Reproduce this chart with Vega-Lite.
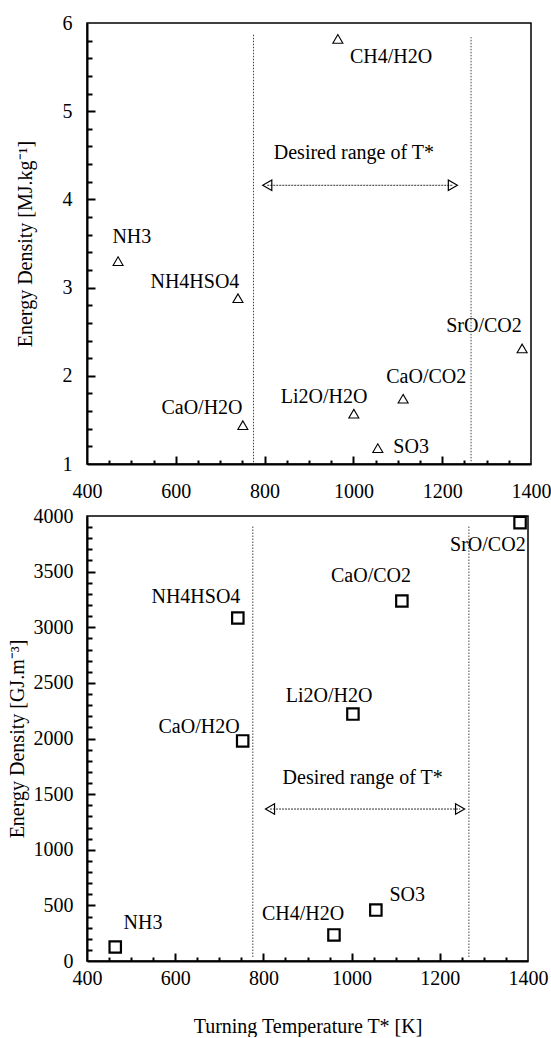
{
  "$schema": "https://vega.github.io/schema/vega-lite/v6.json",
  "background": "white",
  "padding": {"left": 6, "top": 12, "right": 0, "bottom": 0},
  "spacing": 3,
  "config": {
    "font": "Liberation Serif",
    "view": {"stroke": "black", "strokeWidth": 1.5},
    "axis": {
      "domainColor": "black", "domainWidth": 2, "tickColor": "#000000", "tickWidth": 2, "tickOpacity": 1,
      "labelColor": "black", "labelFontSize": 20, "labelFont": "Liberation Serif",
      "titleFont": "Liberation Serif", "titleFontSize": 20, "titleFontWeight": "normal",
      "titleColor": "black", "grid": false, "labelOverlap": false, "labelFlush": false, "zindex": 2
    },
    "text": {"font": "Liberation Serif", "fontSize": 20, "color": "black"}
  },
  "vconcat": [
    {
      "width": 444,
      "height": 441,
      "resolve": {"scale": {"x": "independent", "y": "independent"}, "axis": {"x": "independent", "y": "independent"}},
      "layer": [
        {
          "data": {"values": [{"T": 775, "lo": 1.02, "hi": 5.88}, {"T": 1265, "lo": 1.03, "hi": 5.84}]},
          "mark": {"type": "rule", "strokeDash": [1.5, 1.5], "color": "#444", "strokeWidth": 1},
          "encoding": {
            "x": {"field": "T", "type": "quantitative", "scale": {"domain": [400, 1400], "nice": false, "zero": false},
              "axis": {"title": null, "orient": "bottom", "values": [400, 600, 800, 1000, 1200, 1400],
                "ticks": false, "tickSize": 0, "labelPadding": 17, "format": "d", "labelOverlap": false}},
            "y": {"field": "lo", "type": "quantitative", "scale": {"domain": [1, 6], "nice": false, "zero": false},
              "axis": {"title": "Energy Density [MJ.kg⁻¹]", "titlePadding": 27, "orient": "left",
                "values": [1, 2, 3, 4, 5, 6], "ticks": false, "tickSize": 0, "labelPadding": 15, "format": "d", "labelOverlap": false}},
            "y2": {"field": "hi"}
          }
        },
        {
          "data": {"values": [{"a": 806, "b": 1224, "v": 4.16}]},
          "mark": {"type": "rule", "strokeDash": [2, 1], "color": "#333", "strokeWidth": 1},
          "encoding": {
            "x": {"field": "a", "type": "quantitative", "scale": {"domain": [400, 1400], "nice": false, "zero": false},
              "axis": {"title": null, "orient": "bottom", "labels": false, "domain": false, "ticks": true, "tickSize": 8, "offset": -8,
                "values": [600, 800, 1000, 1200]}},
            "x2": {"field": "b"},
            "y": {"field": "v", "type": "quantitative", "scale": {"domain": [1, 6], "nice": false, "zero": false},
              "axis": {"title": null, "orient": "left", "labels": false, "domain": false, "ticks": true, "tickSize": 8, "offset": -8,
                "values": [2, 3, 4, 5]}}
          }
        },
        {
          "data": {"values": [{"end": "left", "T": 806, "v": 4.16}, {"end": "right", "T": 1224, "v": 4.16}]},
          "mark": {"type": "point", "filled": false, "color": "black", "strokeWidth": 1.2, "size": 110, "opacity": 1},
          "encoding": {
            "x": {"field": "T", "type": "quantitative", "scale": {"domain": [400, 1400], "nice": false, "zero": false},
              "axis": {"title": null, "orient": "bottom", "labels": false, "domain": false, "ticks": true, "tickSize": 4, "offset": -4,
                "values": [450, 500, 550, 650, 700, 750, 850, 900, 950, 1050, 1100, 1150, 1250, 1300, 1350]}},
            "y": {"field": "v", "type": "quantitative", "scale": {"domain": [1, 6], "nice": false, "zero": false},
              "axis": {"title": null, "orient": "left", "labels": false, "domain": false, "ticks": true, "tickSize": 5, "offset": -5,
                "values": [1.2, 1.4, 1.6, 1.8, 2.2, 2.4, 2.6, 2.8, 3.2, 3.4, 3.6, 3.8, 4.2, 4.4, 4.6, 4.8, 5.2, 5.4, 5.6, 5.8]}},
            "shape": {"field": "end", "type": "nominal", "scale": {"domain": ["left", "right"], "range": ["triangle-left", "triangle-right"]}, "legend": null}
          }
        },
        {
          "data": {"values": [{"T": 1001, "v": 4.53, "txt": "Desired range of T*"}]},
          "mark": {"type": "text", "fontSize": 20, "baseline": "middle", "align": "center"},
          "encoding": {
            "x": {"field": "T", "type": "quantitative", "scale": {"domain": [400, 1400], "nice": false, "zero": false}, "axis": null},
            "y": {"field": "v", "type": "quantitative", "scale": {"domain": [1, 6], "nice": false, "zero": false}, "axis": null},
            "text": {"field": "txt"}
          }
        },
        {
          "data": {"values": [
            {"name": "CH4/H2O", "T": 965, "E": 5.82},
            {"name": "NH3", "T": 470, "E": 3.30},
            {"name": "NH4HSO4", "T": 740, "E": 2.88},
            {"name": "CaO/H2O", "T": 751, "E": 1.44},
            {"name": "Li2O/H2O", "T": 1001, "E": 1.57},
            {"name": "CaO/CO2", "T": 1112, "E": 1.74},
            {"name": "SO3", "T": 1055, "E": 1.18},
            {"name": "SrO/CO2", "T": 1380, "E": 2.31}
          ]},
          "mark": {"type": "point", "shape": "triangle-up", "filled": false, "color": "black", "strokeWidth": 1.1, "size": 100, "opacity": 1},
          "encoding": {
            "x": {"field": "T", "type": "quantitative", "scale": {"domain": [400, 1400], "nice": false, "zero": false}, "axis": null},
            "y": {"field": "E", "type": "quantitative", "scale": {"domain": [1, 6], "nice": false, "zero": false}, "axis": null}
          }
        },
        {
          "data": {"values": [
            {"name": "CH4/H2O", "lx": 1085, "ly": 5.61},
            {"name": "NH3", "lx": 501, "ly": 3.57},
            {"name": "NH4HSO4", "lx": 643, "ly": 3.06},
            {"name": "CaO/H2O", "lx": 659, "ly": 1.63},
            {"name": "Li2O/H2O", "lx": 934, "ly": 1.76},
            {"name": "CaO/CO2", "lx": 1164, "ly": 1.99},
            {"name": "SO3", "lx": 1130, "ly": 1.19},
            {"name": "SrO/CO2", "lx": 1294, "ly": 2.57}
          ]},
          "mark": {"type": "text", "baseline": "middle", "align": "center"},
          "encoding": {
            "x": {"field": "lx", "type": "quantitative", "scale": {"domain": [400, 1400], "nice": false, "zero": false}, "axis": null},
            "y": {"field": "ly", "type": "quantitative", "scale": {"domain": [1, 6], "nice": false, "zero": false}, "axis": null},
            "text": {"field": "name"}
          }
        }
      ]
    },
    {
      "width": 441,
      "height": 445,
      "resolve": {"scale": {"x": "independent", "y": "independent"}, "axis": {"x": "independent", "y": "independent"}},
      "layer": [
        {
          "data": {"values": [{"T": 776, "lo": 36, "hi": 3919}, {"T": 1266, "lo": 36, "hi": 3919}]},
          "mark": {"type": "rule", "strokeDash": [1.5, 1.5], "color": "#444", "strokeWidth": 1},
          "encoding": {
            "x": {"field": "T", "type": "quantitative", "scale": {"domain": [400, 1400], "nice": false, "zero": false},
              "axis": {"title": "Turning Temperature T* [K]", "titlePadding": 28, "orient": "bottom",
                "values": [400, 600, 800, 1000, 1200, 1400], "ticks": false, "tickSize": 0, "labelPadding": 7, "format": "d", "labelOverlap": false}},
            "y": {"field": "lo", "type": "quantitative", "scale": {"domain": [0, 4000], "nice": false, "zero": false},
              "axis": {"title": "Energy Density [GJ.m⁻³]", "titlePadding": 6, "orient": "left",
                "values": [0, 500, 1000, 1500, 2000, 2500, 3000, 3500, 4000], "ticks": false, "tickSize": 0, "labelPadding": 14, "format": "d", "labelOverlap": false}},
            "y2": {"field": "hi"}
          }
        },
        {
          "data": {"values": [{"a": 815, "b": 1246, "v": 1366}]},
          "mark": {"type": "rule", "strokeDash": [2, 1], "color": "#333", "strokeWidth": 1},
          "encoding": {
            "x": {"field": "a", "type": "quantitative", "scale": {"domain": [400, 1400], "nice": false, "zero": false},
              "axis": {"title": null, "orient": "bottom", "labels": false, "domain": false, "ticks": true, "tickSize": 8, "offset": -8,
                "values": [600, 800, 1000, 1200]}},
            "x2": {"field": "b"},
            "y": {"field": "v", "type": "quantitative", "scale": {"domain": [0, 4000], "nice": false, "zero": false},
              "axis": {"title": null, "orient": "left", "labels": false, "domain": false, "ticks": true, "tickSize": 8, "offset": -8,
                "values": [500, 1000, 1500, 2000, 2500, 3000, 3500]}}
          }
        },
        {
          "data": {"values": [{"end": "left", "T": 815, "v": 1366}, {"end": "right", "T": 1246, "v": 1366}]},
          "mark": {"type": "point", "filled": false, "color": "black", "strokeWidth": 1.2, "size": 110, "opacity": 1},
          "encoding": {
            "x": {"field": "T", "type": "quantitative", "scale": {"domain": [400, 1400], "nice": false, "zero": false},
              "axis": {"title": null, "orient": "bottom", "labels": false, "domain": false, "ticks": true, "tickSize": 4, "offset": -4,
                "values": [450, 500, 550, 650, 700, 750, 850, 900, 950, 1050, 1100, 1150, 1250, 1300, 1350]}},
            "y": {"field": "v", "type": "quantitative", "scale": {"domain": [0, 4000], "nice": false, "zero": false},
              "axis": {"title": null, "orient": "left", "labels": false, "domain": false, "ticks": true, "tickSize": 5, "offset": -5,
                "values": [100, 200, 300, 400, 600, 700, 800, 900, 1100, 1200, 1300, 1400, 1600, 1700, 1800, 1900, 2100, 2200, 2300, 2400, 2600, 2700, 2800, 2900, 3100, 3200, 3300, 3400, 3600, 3700, 3800, 3900]}},
            "shape": {"field": "end", "type": "nominal", "scale": {"domain": ["left", "right"], "range": ["triangle-left", "triangle-right"]}, "legend": null}
          }
        },
        {
          "data": {"values": [{"T": 1025, "v": 1645, "txt": "Desired range of T*"}]},
          "mark": {"type": "text", "fontSize": 20, "baseline": "middle", "align": "center"},
          "encoding": {
            "x": {"field": "T", "type": "quantitative", "scale": {"domain": [400, 1400], "nice": false, "zero": false}, "axis": null},
            "y": {"field": "v", "type": "quantitative", "scale": {"domain": [0, 4000], "nice": false, "zero": false}, "axis": null},
            "text": {"field": "txt"}
          }
        },
        {
          "data": {"values": [
            {"name": "SrO/CO2", "T": 1382, "E": 3940},
            {"name": "CaO/CO2", "T": 1114, "E": 3236},
            {"name": "Li2O/H2O", "T": 1003, "E": 2220},
            {"name": "NH4HSO4", "T": 742, "E": 3083},
            {"name": "CaO/H2O", "T": 753, "E": 1978},
            {"name": "NH3", "T": 464, "E": 126},
            {"name": "CH4/H2O", "T": 960, "E": 234},
            {"name": "SO3", "T": 1055, "E": 458}
          ]},
          "mark": {"type": "point", "shape": "square", "filled": false, "color": "black", "strokeWidth": 2.2, "size": 130, "opacity": 1},
          "encoding": {
            "x": {"field": "T", "type": "quantitative", "scale": {"domain": [400, 1400], "nice": false, "zero": false}, "axis": null},
            "y": {"field": "E", "type": "quantitative", "scale": {"domain": [0, 4000], "nice": false, "zero": false}, "axis": null}
          }
        },
        {
          "data": {"values": [
            {"name": "SrO/CO2", "lx": 1309, "ly": 3739},
            {"name": "CaO/CO2", "lx": 1044, "ly": 3461},
            {"name": "Li2O/H2O", "lx": 949, "ly": 2382},
            {"name": "NH4HSO4", "lx": 647, "ly": 3272},
            {"name": "CaO/H2O", "lx": 654, "ly": 2103},
            {"name": "NH3", "lx": 527, "ly": 342},
            {"name": "CH4/H2O", "lx": 890, "ly": 422},
            {"name": "SO3", "lx": 1126, "ly": 593}
          ]},
          "mark": {"type": "text", "baseline": "middle", "align": "center"},
          "encoding": {
            "x": {"field": "lx", "type": "quantitative", "scale": {"domain": [400, 1400], "nice": false, "zero": false}, "axis": null},
            "y": {"field": "ly", "type": "quantitative", "scale": {"domain": [0, 4000], "nice": false, "zero": false}, "axis": null},
            "text": {"field": "name"}
          }
        }
      ]
    }
  ]
}
